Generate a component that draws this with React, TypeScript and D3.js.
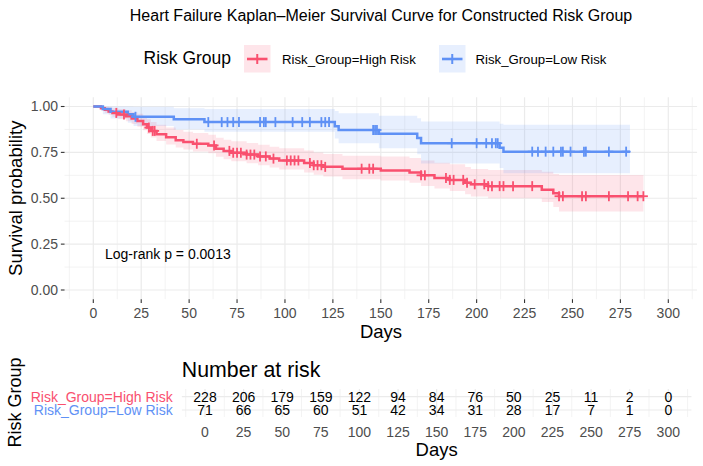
import React from 'react';
import * as d3 from 'd3';

const FONT = "'Liberation Sans', Arial, Helvetica, sans-serif";
const RED = '#F9506F';
const BLUE = '#5F91F5';

// High risk group: step times, survival, CI band and censor times
const highTime = [0, 4, 6, 8, 10, 13, 17, 20, 23, 26, 28, 30, 33, 38, 43, 47, 52, 60, 64, 68, 72, 80, 86, 92, 97, 110, 115, 120, 130, 150, 165, 171, 178, 186, 194, 197, 206, 234, 240, 243];
const highSurv = [1, 0.991, 0.982, 0.973, 0.965, 0.956, 0.947, 0.934, 0.921, 0.903, 0.885, 0.867, 0.849, 0.832, 0.816, 0.806, 0.797, 0.788, 0.77, 0.758, 0.748, 0.738, 0.728, 0.716, 0.706, 0.692, 0.68, 0.671, 0.661, 0.651, 0.64, 0.625, 0.611, 0.6, 0.585, 0.576, 0.566, 0.546, 0.527, 0.511];
const highUpper = [1, 1, 0.998, 0.995, 0.991, 0.986, 0.98, 0.97, 0.96, 0.945, 0.931, 0.916, 0.901, 0.886, 0.872, 0.863, 0.855, 0.846, 0.83, 0.819, 0.81, 0.801, 0.792, 0.781, 0.772, 0.76, 0.749, 0.741, 0.732, 0.728, 0.72, 0.706, 0.693, 0.685, 0.67, 0.66, 0.654, 0.645, 0.632, 0.627];
const highLower = [1, 0.978, 0.965, 0.955, 0.944, 0.932, 0.92, 0.905, 0.89, 0.87, 0.85, 0.831, 0.812, 0.793, 0.776, 0.765, 0.755, 0.745, 0.726, 0.713, 0.702, 0.691, 0.68, 0.667, 0.656, 0.641, 0.628, 0.618, 0.604, 0.597, 0.585, 0.567, 0.553, 0.54, 0.522, 0.51, 0.5, 0.48, 0.452, 0.428];
const highCensor = [12, 16, 29, 31, 32, 54, 63, 71, 73, 75, 77, 80, 82, 84, 87, 90, 94, 101, 103, 105, 107, 113, 115, 117, 119, 121, 140, 144, 146, 171, 173, 184, 186, 188, 193, 195, 199, 204, 206, 208, 212, 214, 219, 229, 243, 245, 255, 257, 269, 279, 284, 287];
const highEnd = 287;

// Low risk group
const lowTime = [0, 5, 9, 18, 21, 42, 58, 126, 128, 149, 169, 171, 212, 214];
const lowSurv = [1, 0.986, 0.972, 0.958, 0.944, 0.93, 0.915, 0.893, 0.872, 0.852, 0.828, 0.8, 0.775, 0.754];
const lowUpper = [1, 1, 1, 1, 0.998, 0.99, 0.986, 0.975, 0.963, 0.95, 0.936, 0.918, 0.906, 0.9];
const lowLower = [1, 0.958, 0.934, 0.912, 0.894, 0.875, 0.862, 0.826, 0.8, 0.772, 0.74, 0.69, 0.665, 0.636];
const lowCensor = [22, 60, 67, 70, 73, 76, 87, 89, 90, 95, 104, 109, 113, 119, 121, 123, 146, 147, 148, 187, 200, 205, 208, 210, 211, 229, 232, 236, 240, 244, 245, 249, 256, 257, 269, 278];
const lowEnd = 280;

// Risk table
const riskTimes = [0, 25, 50, 75, 100, 125, 150, 175, 200, 225, 250, 275, 300];
const highAtRisk = [228, 206, 179, 159, 122, 94, 84, 76, 50, 25, 11, 2, 0];
const lowAtRisk = [71, 66, 65, 60, 51, 42, 34, 31, 28, 17, 7, 1, 0];
const yTicks = [0, 0.25, 0.5, 0.75, 1];

type Pt = { t: number; s: number; lo: number; up: number };

function makeGroup(name: string, color: string, time: number[], surv: number[], upper: number[], lower: number[], censor: number[], end: number) {
  const pts: Pt[] = time.map((t, i) => ({ t, s: surv[i], lo: lower[i], up: upper[i] }));
  const last = pts[pts.length - 1];
  pts.push({ ...last, t: end });
  const marks = censor.map((t) => {
    const i = d3.bisectRight(time, t) - 1;
    return { t, s: surv[Math.max(i, 0)] };
  });
  return { name, color, pts, marks };
}

const groups = [
  makeGroup('Risk_Group=High Risk', RED, highTime, highSurv, highUpper, highLower, highCensor, highEnd),
  makeGroup('Risk_Group=Low Risk', BLUE, lowTime, lowSurv, lowUpper, lowLower, lowCensor, lowEnd),
];

export default function App() {
  const x = d3.scaleLinear().domain([0, 300]).range([93.3, 668.3]);
  const y = d3.scaleLinear().domain([0, 1]).range([290, 106.5]);
  const xt = d3.scaleLinear().domain([0, 300]).range([205, 668.3]);

  const pLeft = x(-15), pRight = x(315), pTop = y(1.05), pBottom = y(-0.05);
  const tLeft = xt(-15), tRight = xt(315), tTop = 389, tBottom = 417;
  const rowY = [396.7, 410];

  const line = d3.line<Pt>().x((d) => x(d.t)).y((d) => y(d.s)).curve(d3.curveStepAfter);
  const band = d3.area<Pt>().x((d) => x(d.t)).y0((d) => y(d.lo)).y1((d) => y(d.up)).curve(d3.curveStepAfter);

  const majorX = d3.range(0, 301, 25);
  const minorX = d3.range(-12.5, 315, 25);
  const minorY = [0.125, 0.375, 0.625, 0.875];

  const grid = '#EBEBEB';
  const text = '#4D4D4D';

  return (
    <svg width={703} height={466} style={{ position: 'absolute', left: 0, top: 0, background: '#fff' }} fontFamily={FONT}>
      {/* title */}
      <text x={381} y={21} textAnchor="middle" fontSize={16} fill="#000">
        Heart Failure Kaplan–Meier Survival Curve for Constructed Risk Group
      </text>

      {/* legend */}
      <text x={143.5} y={64} fontSize={17.5} fill="#000">Risk Group</text>
      {groups.map((g, i) => {
        const kx = [244, 439][i];
        const tx = [282, 475.5][i];
        return (
          <g key={g.name}>
            <rect x={kx} y={45} width={26.5} height={27.5} fill={g.color} fillOpacity={0.15} />
            <line x1={kx + 3} x2={kx + 23.5} y1={59} y2={59} stroke={g.color} strokeWidth={2.6} />
            <line x1={kx + 13.25} x2={kx + 13.25} y1={54} y2={64} stroke={g.color} strokeWidth={2} />
            <text x={tx} y={63.5} fontSize={13.2} fill="#000">{g.name}</text>
          </g>
        );
      })}

      {/* main panel grid */}
      {minorX.map((v) => (
        <line key={'mx' + v} x1={x(v)} x2={x(v)} y1={pTop} y2={pBottom} stroke={grid} strokeWidth={0.6} />
      ))}
      {minorY.map((v) => (
        <line key={'my' + v} x1={pLeft} x2={pRight} y1={y(v)} y2={y(v)} stroke={grid} strokeWidth={0.6} />
      ))}
      {majorX.map((v) => (
        <line key={'Mx' + v} x1={x(v)} x2={x(v)} y1={pTop} y2={pBottom} stroke={grid} strokeWidth={1.2} />
      ))}
      {yTicks.map((v) => (
        <line key={'My' + v} x1={pLeft} x2={pRight} y1={y(v)} y2={y(v)} stroke={grid} strokeWidth={1.2} />
      ))}

      {/* confidence bands */}
      {groups.map((g) => (
        <path key={'b' + g.name} d={band(g.pts) || ''} fill={g.color} fillOpacity={0.15} />
      ))}
      {/* survival curves */}
      {groups.map((g) => (
        <path key={'l' + g.name} d={line(g.pts) || ''} fill="none" stroke={g.color} strokeWidth={2.5} />
      ))}
      {/* censor marks */}
      {groups.map((g) => (
        <g key={'c' + g.name} stroke={g.color} strokeWidth={1.8}>
          {g.marks.map((m, i) => (
            <g key={i}>
              <line x1={x(m.t)} x2={x(m.t)} y1={y(m.s) - 5} y2={y(m.s) + 5} />
              <line x1={x(m.t) - 4.5} x2={x(m.t) + 4.5} y1={y(m.s)} y2={y(m.s)} />
            </g>
          ))}
        </g>
      ))}

      <text x={105} y={259} fontSize={14} fill="#000">Log-rank p = 0.0013</text>

      {/* axes */}
      {yTicks.map((v) => (
        <g key={'yt' + v}>
          <line x1={pLeft - 3.7} x2={pLeft} y1={y(v)} y2={y(v)} stroke="#333" strokeWidth={1.1} />
          <text x={pLeft - 6.5} y={y(v)} dy="0.35em" textAnchor="end" fontSize={14} fill={text}>
            {d3.format('.2f')(v)}
          </text>
        </g>
      ))}
      {majorX.map((v) => (
        <g key={'xt' + v}>
          <line x1={x(v)} x2={x(v)} y1={pBottom} y2={pBottom + 3.7} stroke="#333" strokeWidth={1.1} />
          <text x={x(v)} y={318} textAnchor="middle" fontSize={14} fill={text}>{v}</text>
        </g>
      ))}
      <text x={381} y={337.5} textAnchor="middle" fontSize={18.5} fill="#000">Days</text>
      <text transform={`translate(22,${(pTop + pBottom) / 2}) rotate(-90)`} textAnchor="middle" fontSize={18.5} fill="#000">
        Survival probability
      </text>

      {/* risk table */}
      <text x={tLeft} y={377} fontSize={21.3} fill="#000">Number at risk</text>
      {minorX.map((v) => (
        <line key={'tmx' + v} x1={xt(v)} x2={xt(v)} y1={tTop} y2={tBottom} stroke={grid} strokeWidth={0.6} />
      ))}
      {majorX.map((v) => (
        <line key={'tMx' + v} x1={xt(v)} x2={xt(v)} y1={tTop} y2={tBottom} stroke={grid} strokeWidth={1.2} />
      ))}
      {rowY.map((ry) => (
        <line key={'tr' + ry} x1={tLeft} x2={tRight} y1={ry} y2={ry} stroke={grid} strokeWidth={1.2} />
      ))}
      {[highAtRisk, lowAtRisk].map((row, r) => (
        <g key={'row' + r}>
          <text x={172.7} y={rowY[r]} dy="0.36em" textAnchor="end" fontSize={14} fill={groups[r].color}>
            {groups[r].name}
          </text>
          {row.map((n, i) => (
            <text key={i} x={xt(riskTimes[i])} y={rowY[r]} dy="0.36em" textAnchor="middle" fontSize={14} fill="#000">
              {n}
            </text>
          ))}
        </g>
      ))}
      {riskTimes.map((v) => (
        <text key={'rt' + v} x={xt(v)} y={436.5} textAnchor="middle" fontSize={14} fill={text}>{v}</text>
      ))}
      <text x={(tLeft + tRight) / 2} y={456} textAnchor="middle" fontSize={18.5} fill="#000">Days</text>
      <text transform="translate(21,402.5) rotate(-90)" textAnchor="middle" fontSize={18} fill="#000">Risk Group</text>
    </svg>
  );
}
